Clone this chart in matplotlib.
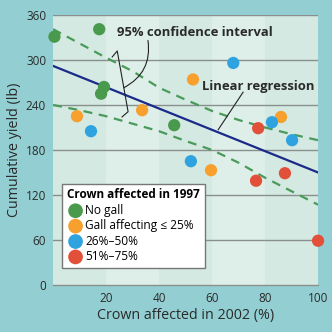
import numpy as np
import matplotlib.pyplot as plt

plt.rcParams['font.family'] = ['Open Sans', 'DejaVu Sans']

# scatter points: (crown affected 2002 %, cumulative yield lb)
no_gall_x = [0.5, 17.4, 19.2, 18.1, 45.7]
no_gall_y = [331, 341, 264, 255, 213]
gall25_x = [9.0, 33.6, 52.8, 86.0, 59.6]
gall25_y = [225, 233, 274, 224, 153]
gall50_x = [14.3, 68.0, 82.6, 90.2, 52.0]
gall50_y = [205, 296, 217, 193, 165]
gall75_x = [77.4, 76.6, 87.5, 100.0]
gall75_y = [209, 139, 149, 59]

# regression line end points and confidence band
reg_x = [0, 100]
reg_y = [292, 150]
ci_x = [0, 10, 20, 30, 40, 50, 60, 70, 80, 90, 100]
ci_upper = [341, 322, 303, 285, 263, 247, 232, 220, 210, 201, 193]
ci_lower = [240, 233, 225, 215, 205, 192, 180, 163, 143, 125, 107]

labels = ['No gall', 'Gall affecting \u2264 25%', '26%\u201350%', '51%\u201375%']
colors = ['#4a9a4e', '#f7a02e', '#2fa3df', '#e2503a']

bg_outer = '#93cfd2'
fig = plt.figure(figsize=(3.32, 3.32), dpi=100, facecolor=bg_outer)
ax = fig.add_axes([0.16, 0.1416, 0.798, 0.8134])
ax.set_facecolor('#d4eae2')

# light vertical bands
for i, x0 in enumerate(range(0, 100, 20)):
    c = '#d3e9e1' if i % 2 == 0 else '#ddefe8'
    ax.axvspan(x0, x0 + 20, color=c, lw=0, zorder=0)

ax.set_xlim(0, 100)
ax.set_ylim(0, 360)
ax.set_xticks([20, 40, 60, 80, 100])
ax.set_yticks([0, 60, 120, 180, 240, 300, 360])
ax.tick_params(length=0, labelsize=8.5, colors='#2a2a2a', pad=5)
for t in [60, 120, 180, 240, 300, 360]:
    ax.axhline(t, color='#8a8f8d', lw=1.0, zorder=1)
for s in ['left', 'right', 'top']:
    ax.spines[s].set_visible(False)
ax.spines['bottom'].set_color('#8a8f8d')
ax.spines['bottom'].set_linewidth(1.0)

ax.set_xlabel('Crown affected in 2002 (%)', fontsize=10.3, color='#2a2a2a', labelpad=2)
ax.set_ylabel('Cumulative yield (lb)', fontsize=10.3, color='#2a2a2a', labelpad=3)

ax.plot(ci_x, ci_upper, color='#4a9a5a', lw=1.6, ls=(0, (4, 3)), zorder=2)
ax.plot(ci_x, ci_lower, color='#4a9a5a', lw=1.6, ls=(0, (4, 3)), zorder=2)
ax.plot(reg_x, reg_y, color='#1b2a8a', lw=1.6, zorder=3)

series = [(no_gall_x, no_gall_y), (gall25_x, gall25_y), (gall50_x, gall50_y), (gall75_x, gall75_y)]
for (xs, ys), c, lab in zip(series, colors, labels):
    ax.scatter(xs, ys, s=78, color=c, edgecolors='none', label=lab, zorder=4, clip_on=False)

# annotations
ax.text(53.6, 336, '95% confidence interval', fontsize=9.4, fontweight='bold',
        color='#2a2a2a', ha='center', va='center', zorder=5)
ax.plot([22.3, 24.2, 28.3, 26.0], [304, 312, 231, 224], color='#222222', lw=0.8, zorder=5)
ax.annotate('', xy=(26.7, 263), xytext=(35.8, 326),
            arrowprops=dict(arrowstyle='-', color='#222222', lw=0.8,
                            connectionstyle='arc3,rad=-0.35', shrinkA=0, shrinkB=0), zorder=5)

ax.text(77.4, 264, 'Linear regression', fontsize=9.4, fontweight='bold',
        color='#2a2a2a', ha='center', va='center', zorder=5)
ax.plot([71.7, 62.3], [257, 207], color='#222222', lw=0.8, zorder=5)

leg = ax.legend(loc='upper left', bbox_to_anchor=(0.035, 0.375), title='Crown affected in 1997',
                fontsize=8.6, title_fontproperties={'weight': 'bold', 'size': 8.5},
                frameon=True, fancybox=False, framealpha=1, edgecolor='#777777',
                handletextpad=0.1, labelspacing=0.2, borderpad=0.4, handlelength=1.4,
                markerscale=1.2, borderaxespad=0)
leg._legend_box.align = 'left'
leg.get_frame().set_linewidth(1.0)
leg.set_zorder(6)

fig.savefig('out.png', dpi=100, facecolor=bg_outer)
